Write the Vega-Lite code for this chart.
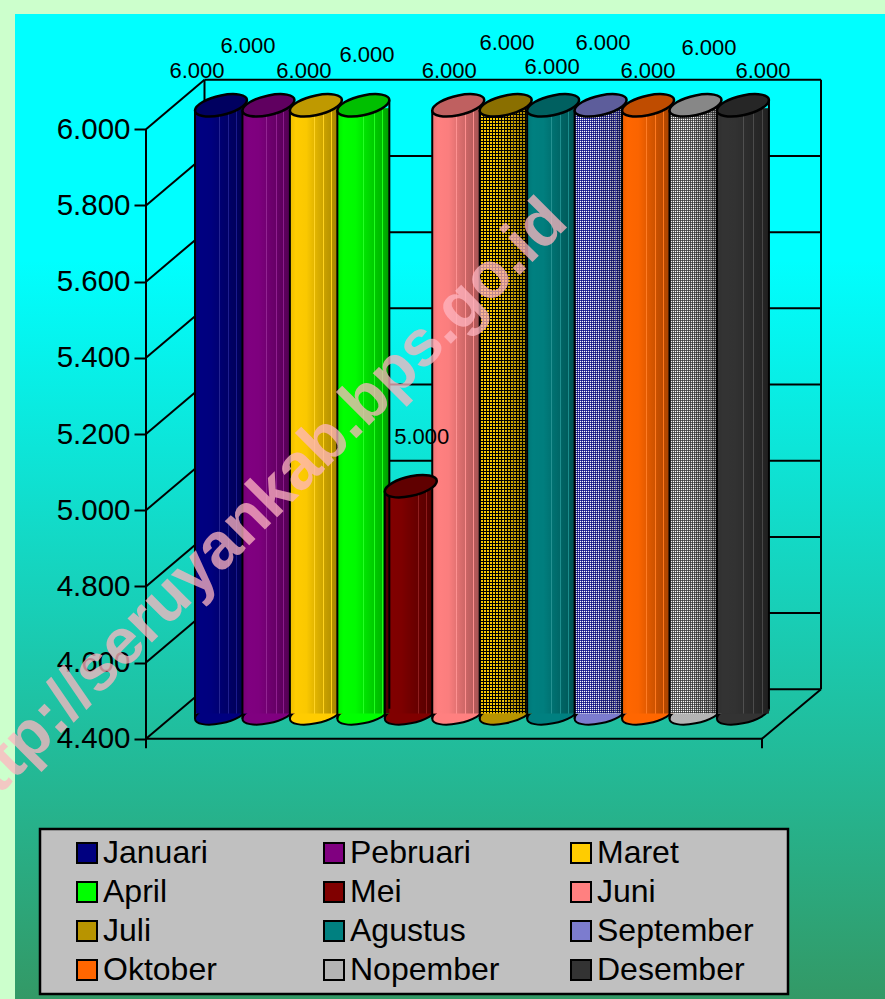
{
"$schema":"https://vega.github.io/schema/vega-lite/v6.json",
"width":870,"height":985,
"autosize":"none",
"padding":{"left":15,"top":14,"right":0,"bottom":0},
"background":"#CCFFCC",
"view":{"stroke":null,"fill":{"gradient":"linear","x1":0,"y1":0,"x2":0,"y2":1,"stops":[{"offset":0,"color":"#00FFFF"},{"offset":0.25,"color":"#00FFFF"},{"offset":1,"color":"#339966"}]}},
"config":{"font":"Liberation Sans"},
"datasets":{
"bulan":[
{"month":"Januari","value":6000},{"month":"Pebruari","value":6000},{"month":"Maret","value":6000},{"month":"April","value":6000},{"month":"Mei","value":5000},{"month":"Juni","value":6000},{"month":"Juli","value":6000},{"month":"Agustus","value":6000},{"month":"September","value":6000},{"month":"Oktober","value":6000},{"month":"Nopember","value":6000},{"month":"Desember","value":6000}],
"ticks":[{"v":4400},{"v":4600},{"v":4800},{"v":5000},{"v":5200},{"v":5400},{"v":5600},{"v":5800},{"v":6000}],
"wm":[{"label":"http://seruyankab.bps.go.id"}],
"one":[{"v":4400}]
},
"resolve":{"scale":{"x":"independent"}},
"layer":[
{"data":{"name":"one"},"mark":{"type":"rect","fill":"#C0C0C0","stroke":"#000","strokeWidth":2.5},
 "encoding":{"x":{"datum":-106,"type":"quantitative","scale":{"domain":[-131,739]},"axis":null},"x2":{"datum":642},
 "y":{"datum":4163,"type":"quantitative","scale":{"domain":[3716.8,6302.7],"nice":false,"zero":false},"axis":{"title":null,"grid":false,"domain":false,"offset":-131,"values":[4400,4600,4800,5000,5200,5400,5600,5800,6000],"labelFont":"Liberation Sans","labelFontSize":29.5,"labelColor":"#000","tickColor":"#000","tickWidth":2,"tickSize":12,"labelPadding":4,"labelExpr":"replace(format(datum.value,','),',','.')"}},"y2":{"datum":3729.9}}},
{"data":{"name":"ticks"},"mark":{"type":"rule","color":"#000","strokeWidth":2,"yOffset":-49.5},
 "encoding":{"x":{"datum":58.5,"type":"quantitative","scale":{"domain":[-131,739]},"axis":null},"x2":{"datum":675},"y":{"field":"v","type":"quantitative"}}},
{"data":{"name":"ticks"},"mark":{"type":"rule","color":"#000","strokeWidth":2,"y2Offset":-49.5},
 "encoding":{"x":{"datum":0,"type":"quantitative","scale":{"domain":[-131,739]},"axis":null},"x2":{"datum":58.5},"y":{"field":"v","type":"quantitative"},"y2":{"field":"v"}}},
{"data":{"name":"one"},"mark":{"type":"rule","color":"#000","strokeWidth":2},
 "encoding":{"x":{"datum":0,"type":"quantitative","scale":{"domain":[-131,739]},"axis":null},"x2":{"datum":616},"y":{"field":"v","type":"quantitative"}}},
{"data":{"name":"one"},"mark":{"type":"rule","color":"#000","strokeWidth":2,"y2Offset":-49.5},
 "encoding":{"x":{"datum":616,"type":"quantitative","scale":{"domain":[-131,739]},"axis":null},"x2":{"datum":675},"y":{"field":"v","type":"quantitative"},"y2":{"field":"v"}}},
{"data":{"name":"one"},"mark":{"type":"rule","color":"#000","strokeWidth":2,"yOffset":-49.5,"y2Offset":-49.5},
 "encoding":{"x":{"datum":58.5,"type":"quantitative","scale":{"domain":[-131,739]},"axis":null},"y":{"datum":4400,"type":"quantitative"},"y2":{"datum":6000}}},
{"data":{"name":"one"},"mark":{"type":"rule","color":"#000","strokeWidth":2,"yOffset":-49.5,"y2Offset":-49.5},
 "encoding":{"x":{"datum":675,"type":"quantitative","scale":{"domain":[-131,739]},"axis":null},"y":{"datum":4400,"type":"quantitative"},"y2":{"datum":6000}}},
{"data":{"name":"one"},"mark":{"type":"rule","color":"#000","strokeWidth":2},
 "encoding":{"x":{"datum":0,"type":"quantitative","scale":{"domain":[-131,739]},"axis":null},"y":{"datum":4375,"type":"quantitative"},"y2":{"datum":6000}}},
{"data":{"name":"one"},"mark":{"type":"rule","color":"#000","strokeWidth":2},
 "encoding":{"x":{"datum":616,"type":"quantitative","scale":{"domain":[-131,739]},"axis":null},"y":{"datum":4375,"type":"quantitative"},"y2":{"datum":4400}}},

{"data":{"name":"bulan"},"mark":{"type":"point","filled":true,"opacity":1,"stroke":"#000","strokeWidth":2,"size":2704,"yOffset":-25.3,"shape":"M1,-0.2C1,0.01,0.5523,0.2695,0,0.38C-0.5523,0.4905,-1,0.41,-1,0.2C-1,-0.01,-0.5523,-0.2695,0,-0.38C0.5523,-0.4905,1,-0.41,1,-0.2Z"},
 "encoding":{"x":{"field":"month","type":"nominal","sort":null,"scale":{"type":"band","domain":["Januari","Pebruari","Maret","April","Mei","Juni","Juli","Agustus","September","Oktober","Nopember","Desember"],"range":[182.27,751.67],"paddingInner":0,"paddingOuter":0},"axis":null},
 "y":{"datum":4400,"type":"quantitative"},
 "color":{"field":"month","type":"nominal","scale":{"domain":["Januari","Pebruari","Maret","April","Mei","Juni","Juli","Agustus","September","Oktober","Nopember","Desember"],"range":["#000080","#800080","#FFCC00","#00FF00","#800000","#FF8080","#B89400","#008080","#7C7CCF","#FF6600","#B4B4B4","#333333"]},"legend":{"zindex":1,"orient":"none","direction":"horizontal","legendX":56,"legendY":823,"columns":3,"title":null,"symbolType":"square","symbolSize":400,"symbolStrokeColor":"#000","symbolStrokeWidth":2,"symbolOpacity":1,"labelFont":"Liberation Sans","labelFontSize":32,"labelColor":"#000","labelOffset":0,"columnPadding":58,"rowPadding":7,"padding":0,"gridAlign":"all","labelLimit":300}}}},

{"data":{"name":"bulan"},"mark":{"type":"bar","width":52,"yOffset":-21,"y2Offset":-25.3},
 "encoding":{"x":{"field":"month","type":"nominal","sort":null,"scale":{"type":"band","domain":["Januari","Pebruari","Maret","April","Mei","Juni","Juli","Agustus","September","Oktober","Nopember","Desember"],"range":[182.27,751.67],"paddingInner":0,"paddingOuter":0},"axis":null},
 "y":{"field":"value","type":"quantitative"},"y2":{"datum":4400},
 "color":{"field":"month","type":"nominal"}}},

{"data":{"name":"bulan"},"transform":[{"filter":"datum.month=='Juli'"}],"mark":{"type":"bar","width":47.45,"xOffset":-2.27,"yOffset":-21,"y2Offset":-25.3,"fill":"#FFCC00"},
 "encoding":{"x":{"field":"month","type":"nominal","sort":null,"scale":{"type":"band","domain":["Januari","Pebruari","Maret","April","Mei","Juni","Juli","Agustus","September","Oktober","Nopember","Desember"],"range":[182.27,751.67],"paddingInner":0,"paddingOuter":0},"axis":null},
 "y":{"field":"value","type":"quantitative"},"y2":{"datum":4400}}},
{"data":{"name":"bulan"},"transform":[{"filter":"datum.month=='September'"}],"mark":{"type":"bar","width":47.45,"xOffset":-2.27,"yOffset":-21,"y2Offset":-25.3,"fill":"#FFFFFF"},
 "encoding":{"x":{"field":"month","type":"nominal","sort":null,"scale":{"type":"band","domain":["Januari","Pebruari","Maret","April","Mei","Juni","Juli","Agustus","September","Oktober","Nopember","Desember"],"range":[182.27,751.67],"paddingInner":0,"paddingOuter":0},"axis":null},
 "y":{"field":"value","type":"quantitative"},"y2":{"datum":4400}}},
{"data":{"name":"bulan"},"transform":[{"filter":"datum.month=='Nopember'"}],"mark":{"type":"bar","width":47.45,"xOffset":-2.27,"yOffset":-21,"y2Offset":-25.3,"fill":"#FFFFFF"},
 "encoding":{"x":{"field":"month","type":"nominal","sort":null,"scale":{"type":"band","domain":["Januari","Pebruari","Maret","April","Mei","Juni","Juli","Agustus","September","Oktober","Nopember","Desember"],"range":[182.27,751.67],"paddingInner":0,"paddingOuter":0},"axis":null},
 "y":{"field":"value","type":"quantitative"},"y2":{"datum":4400}}},

{"data":{"name":"bulan"},"transform":[{"filter":"datum.month=='Juli'"}],"mark":{"type":"rule","strokeWidth":47,"xOffset":-2.5,"yOffset":-21.3,"y2Offset":-25.3,"stroke":"#000","strokeDash":[1,2]},
 "encoding":{"x":{"field":"month","type":"nominal","sort":null,"scale":{"type":"band","domain":["Januari","Pebruari","Maret","April","Mei","Juni","Juli","Agustus","September","Oktober","Nopember","Desember"],"range":[182.27,751.67],"paddingInner":0,"paddingOuter":0},"axis":null},
 "y":{"field":"value","type":"quantitative"},"y2":{"datum":4400}}},
{"data":{"name":"bulan"},"transform":[{"filter":"datum.month=='Juli'"}],"mark":{"type":"rule","strokeWidth":605,"xOffset":-25.7,"x2Offset":21.3,"yOffset":-23.3,"stroke":"#000","strokeDash":[1,2]},
 "encoding":{"x":{"field":"month","type":"nominal","sort":null,"scale":{"type":"band","domain":["Januari","Pebruari","Maret","April","Mei","Juni","Juli","Agustus","September","Oktober","Nopember","Desember"],"range":[182.27,751.67],"paddingInner":0,"paddingOuter":0},"axis":null},"x2":{"field":"month"},
 "y":{"datum":5200,"type":"quantitative"}}},
{"data":{"name":"bulan"},"transform":[{"filter":"datum.month=='September'"}],"mark":{"type":"rule","strokeWidth":47,"xOffset":-2.5,"yOffset":-21.3,"y2Offset":-25.3,"stroke":"#000080","strokeDash":[1,1],"opacity":0.75},
 "encoding":{"x":{"field":"month","type":"nominal","sort":null,"scale":{"type":"band","domain":["Januari","Pebruari","Maret","April","Mei","Juni","Juli","Agustus","September","Oktober","Nopember","Desember"],"range":[182.27,751.67],"paddingInner":0,"paddingOuter":0},"axis":null},
 "y":{"field":"value","type":"quantitative"},"y2":{"datum":4400}}},
{"data":{"name":"bulan"},"transform":[{"filter":"datum.month=='September'"}],"mark":{"type":"rule","strokeWidth":605,"xOffset":-25.6,"x2Offset":21.4,"yOffset":-23.3,"stroke":"#000080","strokeDash":[1,1],"opacity":0.75},
 "encoding":{"x":{"field":"month","type":"nominal","sort":null,"scale":{"type":"band","domain":["Januari","Pebruari","Maret","April","Mei","Juni","Juli","Agustus","September","Oktober","Nopember","Desember"],"range":[182.27,751.67],"paddingInner":0,"paddingOuter":0},"axis":null},"x2":{"field":"month"},
 "y":{"datum":5200,"type":"quantitative"}}},
{"data":{"name":"bulan"},"transform":[{"filter":"datum.month=='Nopember'"}],"mark":{"type":"rule","strokeWidth":47,"xOffset":-2.5,"yOffset":-21.3,"y2Offset":-25.3,"stroke":"#333333","strokeDash":[1,1],"opacity":0.75},
 "encoding":{"x":{"field":"month","type":"nominal","sort":null,"scale":{"type":"band","domain":["Januari","Pebruari","Maret","April","Mei","Juni","Juli","Agustus","September","Oktober","Nopember","Desember"],"range":[182.27,751.67],"paddingInner":0,"paddingOuter":0},"axis":null},
 "y":{"field":"value","type":"quantitative"},"y2":{"datum":4400}}},
{"data":{"name":"bulan"},"transform":[{"filter":"datum.month=='Nopember'"}],"mark":{"type":"rule","strokeWidth":605,"xOffset":-25.5,"x2Offset":21.5,"yOffset":-23.3,"stroke":"#333333","strokeDash":[1,1],"opacity":0.75},
 "encoding":{"x":{"field":"month","type":"nominal","sort":null,"scale":{"type":"band","domain":["Januari","Pebruari","Maret","April","Mei","Juni","Juli","Agustus","September","Oktober","Nopember","Desember"],"range":[182.27,751.67],"paddingInner":0,"paddingOuter":0},"axis":null},"x2":{"field":"month"},
 "y":{"datum":5200,"type":"quantitative"}}},

{"data":{"name":"bulan"},"transform":[{"filter":"datum.month!='Desember' && datum.month!='April'"}],"mark":{"type":"bar","width":47.45,"xOffset":-2.27,"yOffset":-21,"y2Offset":-25.3,"fill":{"gradient":"linear","x1":0,"y1":0,"x2":1,"y2":0,"stops":[{"offset":0,"color":"rgba(0,0,0,0.08)"},{"offset":0.12,"color":"rgba(0,0,0,0)"},{"offset":0.35,"color":"rgba(0,0,0,0.02)"},{"offset":0.5,"color":"rgba(0,0,0,0.1)"},{"offset":0.5,"color":"rgba(255,255,255,0.14)"},{"offset":0.52,"color":"rgba(255,255,255,0.14)"},{"offset":0.52,"color":"rgba(0,0,0,0.11)"},{"offset":0.7,"color":"rgba(0,0,0,0.2)"},{"offset":0.7,"color":"rgba(255,255,255,0.12)"},{"offset":0.72,"color":"rgba(255,255,255,0.12)"},{"offset":0.72,"color":"rgba(0,0,0,0.21)"},{"offset":0.86,"color":"rgba(0,0,0,0.28)"},{"offset":0.86,"color":"rgba(255,255,255,0.1)"},{"offset":0.88,"color":"rgba(255,255,255,0.1)"},{"offset":0.88,"color":"rgba(0,0,0,0.29)"},{"offset":1,"color":"rgba(0,0,0,0.35)"}]}},
 "encoding":{"x":{"field":"month","type":"nominal","sort":null,"scale":{"type":"band","domain":["Januari","Pebruari","Maret","April","Mei","Juni","Juli","Agustus","September","Oktober","Nopember","Desember"],"range":[182.27,751.67],"paddingInner":0,"paddingOuter":0},"axis":null},
 "y":{"field":"value","type":"quantitative"},"y2":{"datum":4400}}},
{"data":{"name":"bulan"},"transform":[{"filter":"datum.month=='Desember' || datum.month=='April'"}],"mark":{"type":"bar","width":52,"yOffset":-21,"y2Offset":-25.3,"fill":{"gradient":"linear","x1":0,"y1":0,"x2":1,"y2":0,"stops":[{"offset":0,"color":"rgba(0,0,0,0.08)"},{"offset":0.12,"color":"rgba(0,0,0,0)"},{"offset":0.35,"color":"rgba(0,0,0,0.02)"},{"offset":0.5,"color":"rgba(0,0,0,0.1)"},{"offset":0.5,"color":"rgba(255,255,255,0.14)"},{"offset":0.52,"color":"rgba(255,255,255,0.14)"},{"offset":0.52,"color":"rgba(0,0,0,0.11)"},{"offset":0.7,"color":"rgba(0,0,0,0.2)"},{"offset":0.7,"color":"rgba(255,255,255,0.12)"},{"offset":0.72,"color":"rgba(255,255,255,0.12)"},{"offset":0.72,"color":"rgba(0,0,0,0.21)"},{"offset":0.86,"color":"rgba(0,0,0,0.28)"},{"offset":0.86,"color":"rgba(255,255,255,0.1)"},{"offset":0.88,"color":"rgba(255,255,255,0.1)"},{"offset":0.88,"color":"rgba(0,0,0,0.29)"},{"offset":1,"color":"rgba(0,0,0,0.4)"}]}},
 "encoding":{"x":{"field":"month","type":"nominal","sort":null,"scale":{"type":"band","domain":["Januari","Pebruari","Maret","April","Mei","Juni","Juli","Agustus","September","Oktober","Nopember","Desember"],"range":[182.27,751.67],"paddingInner":0,"paddingOuter":0},"axis":null},
 "y":{"field":"value","type":"quantitative"},"y2":{"datum":4400}}},

{"data":{"name":"bulan"},"mark":{"type":"rule","stroke":"#000","strokeWidth":2,"xOffset":-26,"yOffset":-19,"y2Offset":-20},
 "encoding":{"x":{"field":"month","type":"nominal","sort":null,"scale":{"type":"band","domain":["Januari","Pebruari","Maret","April","Mei","Juni","Juli","Agustus","September","Oktober","Nopember","Desember"],"range":[182.27,751.67],"paddingInner":0,"paddingOuter":0},"axis":null},
 "y":{"field":"value","type":"quantitative"},"y2":{"datum":4400}}},
{"data":{"name":"bulan"},"transform":[{"filter":"datum.month=='Desember' || datum.month=='April'"}],"mark":{"type":"rule","stroke":"#000","strokeWidth":2,"xOffset":26,"yOffset":-29,"y2Offset":-30},
 "encoding":{"x":{"field":"month","type":"nominal","sort":null,"scale":{"type":"band","domain":["Januari","Pebruari","Maret","April","Mei","Juni","Juli","Agustus","September","Oktober","Nopember","Desember"],"range":[182.27,751.67],"paddingInner":0,"paddingOuter":0},"axis":null},
 "y":{"field":"value","type":"quantitative"},"y2":{"datum":4400}}},

{"data":{"name":"bulan"},"mark":{"type":"point","filled":true,"opacity":1,"stroke":"#000","strokeWidth":2.5,"size":2704,"yOffset":-24,"shape":"M1,-0.2C1,0.01,0.5523,0.2695,0,0.38C-0.5523,0.4905,-1,0.41,-1,0.2C-1,-0.01,-0.5523,-0.2695,0,-0.38C0.5523,-0.4905,1,-0.41,1,-0.2Z"},
 "encoding":{"x":{"field":"month","type":"nominal","sort":null,"scale":{"type":"band","domain":["Januari","Pebruari","Maret","April","Mei","Juni","Juli","Agustus","September","Oktober","Nopember","Desember"],"range":[182.27,751.67],"paddingInner":0,"paddingOuter":0},"axis":null},
 "y":{"field":"value","type":"quantitative"},
 "color":{"field":"month","type":"nominal"}}},
{"data":{"name":"bulan"},"mark":{"type":"point","filled":true,"fill":"#000","opacity":0.25,"size":2704,"yOffset":-24,"shape":"M1,-0.2C1,0.01,0.5523,0.2695,0,0.38C-0.5523,0.4905,-1,0.41,-1,0.2C-1,-0.01,-0.5523,-0.2695,0,-0.38C0.5523,-0.4905,1,-0.41,1,-0.2Z"},
 "encoding":{"x":{"field":"month","type":"nominal","sort":null,"scale":{"type":"band","domain":["Januari","Pebruari","Maret","April","Mei","Juni","Juli","Agustus","September","Oktober","Nopember","Desember"],"range":[182.27,751.67],"paddingInner":0,"paddingOuter":0},"axis":null},
 "y":{"field":"value","type":"quantitative"}}},

{"data":{"name":"bulan"},"mark":{"type":"text","fontSize":22,"font":"Liberation Sans","color":"#000","baseline":"middle","align":"center",
 "text":{"expr":"replace(format(datum.value,','),',','.')"},
 "dx":{"expr":"({'Januari':-24,'Pebruari':-20.5,'Maret':-12,'April':3.6,'Mei':11,'Juni':-9,'Juli':1.3,'Agustus':-1,'September':2.4,'Oktober':0,'Nopember':13.5,'Desember':20})[datum.month]"},
 "dy":{"expr":"({'Januari':-58.3,'Pebruari':-83.3,'Maret':-58.3,'April':-74.3,'Mei':-73.2,'Juni':-58.3,'Juli':-86.3,'Agustus':-62.3,'September':-86.3,'Oktober':-58.3,'Nopember':-81.3,'Desember':-58.3})[datum.month]"}},
 "encoding":{"x":{"field":"month","type":"nominal","sort":null,"scale":{"type":"band","domain":["Januari","Pebruari","Maret","April","Mei","Juni","Juli","Agustus","September","Oktober","Nopember","Desember"],"range":[182.27,751.67],"paddingInner":0,"paddingOuter":0},"axis":null},
 "y":{"field":"value","type":"quantitative"}}},

{"data":{"name":"wm"},"mark":{"type":"text","fontSize":65,"fontWeight":"bold","font":"Liberation Sans","angle":-45,"align":"center","baseline":"middle","color":"#FFB6C1","opacity":0.75},
 "encoding":{"text":{"field":"label"},"x":{"datum":110,"type":"quantitative","scale":{"domain":[-131,739]},"axis":null},"y":{"datum":5000,"type":"quantitative"}}}
]
}
